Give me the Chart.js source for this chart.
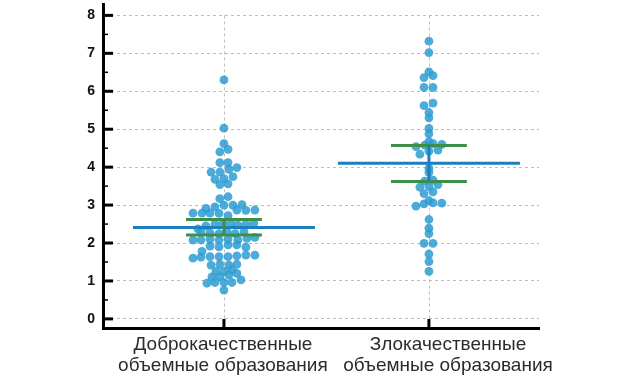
<!DOCTYPE html>
<html>
<head>
<meta charset="utf-8">
<script src="https://cdn.jsdelivr.net/npm/chart.js@4/dist/chart.umd.min.js"></script>
<style>
  html, body { margin: 0; padding: 0; background: #fff; }
  #wrap { width: 640px; height: 380px; position: relative; }
</style>
</head>
<body>
<div id="wrap"><canvas id="c" width="640" height="380"></canvas></div>
<script>
// ---- data ----
const categories = [
  ['Доброкачественные', 'объемные образования'],
  ['Злокачественные', 'объемные образования']
];
const yTickValues = [0, 1, 2, 3, 4, 5, 6, 7, 8];

const benignValues = [
  6.30, 5.03, 4.62, 4.47, 4.40, 4.12, 4.12, 3.99, 3.94, 3.87, 3.87, 3.75, 3.70, 3.68,
  3.56, 3.54, 3.22, 3.17, 3.00, 3.00, 3.01, 2.95, 2.91, 2.87, 2.86, 2.87, 2.79, 2.79,
  2.79, 2.78, 2.72, 2.50, 2.51, 2.52, 2.47, 2.49, 2.52, 2.45, 2.37, 2.30, 2.27, 2.25,
  2.30, 2.25, 2.30, 2.08, 2.08, 2.10, 2.08, 2.10, 2.08, 2.12, 2.15, 1.92, 1.90, 1.95,
  1.95, 1.89, 1.78, 1.60, 1.63, 1.64, 1.64, 1.64, 1.66, 1.68, 1.68, 1.42, 1.44, 1.42,
  1.44, 1.25, 1.25, 1.30, 1.11, 1.11, 1.16, 1.20, 0.94, 0.96, 0.96, 0.96, 1.03, 0.76
];
const benignJitter = [
  0, 0, 0, 0.020, -0.020, -0.020, 0.020, 0.063, 0.024, -0.063, -0.020, 0.044, 0, -0.044,
  0.020, -0.020, 0.020, -0.020, 0, 0.044, 0.088, -0.044, -0.088, 0.063, 0.107, 0.151, -0.151, -0.107,
  -0.068, -0.024, 0.020, -0.044, -0.005, 0.034, 0.068, 0.107, 0.146, -0.088, -0.127, -0.112, -0.068, -0.024,
  0.015, 0.054, 0.098, -0.151, -0.112, -0.068, -0.024, 0.020, 0.068, 0.112, 0.151, -0.068, -0.024, 0.020,
  0.063, 0.107, -0.107, -0.151, -0.112, -0.068, -0.024, 0.020, 0.063, 0.107, 0.151, -0.063, -0.020, 0.024,
  0.063, -0.039, 0, 0.039, -0.059, -0.020, 0.024, 0.063, -0.083, -0.044, 0, 0.039, 0.083, 0
];

const malignantValues = [
  7.32, 7.02, 6.51, 6.41, 6.36, 6.10, 6.10, 5.69, 5.62, 5.44, 5.30, 5.02, 4.88, 4.67,
  4.62, 4.60, 4.58, 4.54, 4.45, 4.42, 4.34, 3.97, 3.86, 3.66, 3.63, 3.54, 3.49, 3.47,
  3.35, 3.30, 3.12, 3.06, 3.05, 3.03, 2.97, 2.62, 2.39, 2.25, 1.99, 1.99, 1.71, 1.51, 1.25
];
const malignantJitter = [
  0, 0, 0, 0.020, -0.024, -0.024, 0.020, 0.020, -0.024, 0, 0, 0, 0, 0,
  0.020, 0.063, -0.020, -0.063, 0.044, 0, -0.044, 0, 0, 0.020, -0.020, 0.044, 0, -0.044,
  0.020, -0.024, 0, 0.020, 0.063, -0.024, -0.063, 0, 0, 0, -0.024, 0.020, 0, 0, 0
];

const means = [2.41, 4.10];
const ciLower = [2.21, 3.62];
const ciUpper = [2.62, 4.57];

// ---- style constants ----
const POINT_COLOR = 'rgba(45,156,210,0.85)';
const MEAN_COLOR = '#1b7fc0';
const CI_COLOR = '#3c8f48';
const MEAN_HALF = 0.444;
const CI_HALF = 0.185;
const LABEL_NUDGE = [-0.005, 0.093];
const ERRBAR_COLORS = [CI_COLOR, MEAN_COLOR];

function groupPoints(values, jitter, idx) {
  return values.map((v, i) => ({ x: idx + 1 + jitter[i], y: v }));
}

const datasets = [];
means.forEach((m, i) => {
  const c = i + 1;
  datasets.push({
    type: 'line', order: 1, data: [{ x: c, y: ciLower[i] }, { x: c, y: ciUpper[i] }],
    borderColor: ERRBAR_COLORS[i], borderWidth: 3, pointRadius: 0, fill: false
  });
  datasets.push({
    type: 'line', order: 1, data: [{ x: c - MEAN_HALF, y: m }, { x: c + MEAN_HALF, y: m }],
    borderColor: MEAN_COLOR, borderWidth: 3, pointRadius: 0, fill: false
  });
  datasets.push({
    type: 'line', order: 1, data: [{ x: c - CI_HALF, y: ciUpper[i] }, { x: c + CI_HALF, y: ciUpper[i] }],
    borderColor: CI_COLOR, borderWidth: 3, pointRadius: 0, fill: false
  });
  datasets.push({
    type: 'line', order: 1, data: [{ x: c - CI_HALF, y: ciLower[i] }, { x: c + CI_HALF, y: ciLower[i] }],
    borderColor: CI_COLOR, borderWidth: 3, pointRadius: 0, fill: false
  });
});
datasets.push({
  type: 'scatter', order: 5, data: groupPoints(benignValues, benignJitter, 0),
  backgroundColor: POINT_COLOR, borderWidth: 0, pointRadius: 4.4
});
datasets.push({
  type: 'scatter', order: 5, data: groupPoints(malignantValues, malignantJitter, 1),
  backgroundColor: POINT_COLOR, borderWidth: 0, pointRadius: 4.4
});

const axisDecor = {
  id: 'axisDecor',
  beforeDatasetsDraw(chart) {
    const { ctx, scales: { x, y }, chartArea: a } = chart;
    ctx.save();
    ctx.strokeStyle = '#bdbdbd';
    ctx.lineWidth = 1;
    ctx.setLineDash([3, 3]);
    const top = y.getPixelForValue(yTickValues[yTickValues.length - 1]);
    categories.forEach((_, i) => {
      const px = Math.round(x.getPixelForValue(i + 1)) + 0.5;
      ctx.beginPath();
      ctx.moveTo(px, top);
      ctx.lineTo(px, a.bottom);
      ctx.stroke();
    });
    ctx.restore();
  },
  afterDraw(chart) {
    const { ctx, scales: { x, y }, chartArea: a } = chart;
    ctx.save();
    ctx.strokeStyle = '#000';
    ctx.setLineDash([]);
    yTickValues.forEach(v => {
      const py = y.getPixelForValue(v);
      ctx.lineWidth = 3;
      ctx.beginPath();
      ctx.moveTo(a.left, py);
      ctx.lineTo(a.left + 10, py);
      ctx.stroke();
      if (v < yTickValues[yTickValues.length - 1]) {
        const pm = y.getPixelForValue(v + 0.5);
        ctx.lineWidth = 1.5;
        ctx.beginPath();
        ctx.moveTo(a.left, pm);
        ctx.lineTo(a.left + 5, pm);
        ctx.stroke();
      }
    });
    categories.forEach((_, i) => {
      const px = x.getPixelForValue(i + 1);
      ctx.lineWidth = 3;
      ctx.beginPath();
      ctx.moveTo(px, a.bottom);
      ctx.lineTo(px, a.bottom - 9);
      ctx.stroke();
    });
    ctx.restore();
  }
};

new Chart(document.getElementById('c'), {
  type: 'scatter',
  data: { datasets },
  plugins: [axisDecor],
  options: {
    responsive: false,
    animation: false,
    layout: { padding: { left: 0, right: 101, top: 4, bottom: 0 } },
    plugins: { legend: { display: false }, tooltip: { enabled: false } },
    scales: {
      x: {
        type: 'linear', position: 'bottom', weight: 0,
        min: 0.41, max: 2.537,
        afterBuildTicks: s => { s.ticks = categories.map((_, i) => ({ value: i + 1 })); },
        afterFit: s => { s.height = 2; s.paddingLeft = 0; s.paddingRight = 0; },
        grid: { display: false, drawTicks: false },
        border: { display: true, color: '#000', width: 3 },
        ticks: { display: false }
      },
      xl: {
        type: 'linear', position: 'bottom', weight: 1,
        min: 0.41, max: 2.537,
        afterBuildTicks: s => { s.ticks = categories.map((_, i) => ({ value: i + 1 + LABEL_NUDGE[i] })); },
        afterFit: s => { s.height = 50; s.paddingLeft = 0; s.paddingRight = 0; },
        grid: { display: false, drawTicks: false },
        border: { display: false },
        ticks: {
          autoSkip: false, maxRotation: 0, padding: 4,
          color: '#2b2b2b',
          font: { family: 'Liberation Sans', size: 19, lineHeight: 1.1 },
          callback: (v, i) => categories[i]
        }
      },
      y: {
        type: 'linear', min: -0.24, max: 8.29,
        afterFit: s => { s.width = 103; s.paddingTop = 0; s.paddingBottom = 0; },
        grid: { color: '#bdbdbd', lineWidth: 1, drawTicks: false },
        border: { display: true, color: '#000', width: 3, dash: [3, 3] },
        ticks: {
          stepSize: 1, includeBounds: false, padding: 8,
          color: '#111',
          font: { family: 'Liberation Sans', size: 14, weight: 'bold' }
        }
      }
    }
  }
});
</script>
</body>
</html>
